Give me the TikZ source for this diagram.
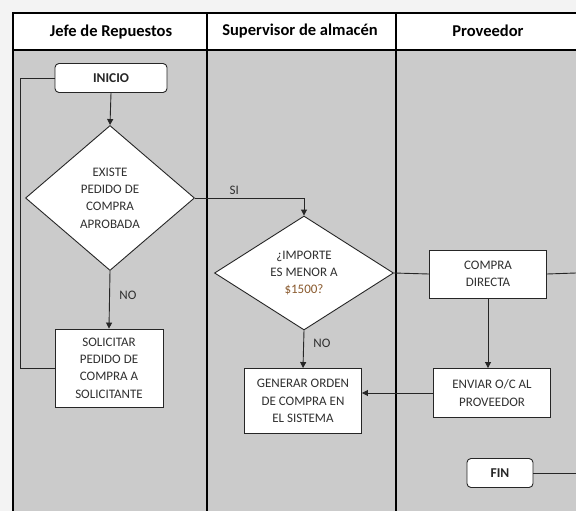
\documentclass[tikz,border=0pt]{standalone}
\usepackage{fontspec}
\setmainfont{Carlito}
\usetikzlibrary{shapes.geometric,arrows.meta}
\definecolor{lanegray}{HTML}{CBCBCB}
\definecolor{inkgray}{HTML}{303030}
\definecolor{pagebg}{HTML}{F3F3F3}
\definecolor{amount}{HTML}{8A5A2E}
\begin{document}
\begin{tikzpicture}[x=1pt,y=-1pt,
  every node/.style={text=inkgray},
  txt/.style={font=\fontsize{13}{17.3}\selectfont},
  procbox/.style={txt, draw=black!85, fill=white, line width=0.9pt, align=center, inner sep=2pt},
  terminal/.style={draw=black!85, fill=white, line width=0.9pt, rounded corners=4pt,
    font=\bfseries\fontsize{13.5}{16}\selectfont, text=black!85},
  decision/.style={txt, diamond, draw=black!85, fill=white, line width=0.9pt, align=center, inner sep=0pt},
  lanehead/.style={font=\bfseries\fontsize{16.5}{19}\selectfont, text=black},
  flow/.style={draw=black!85, line width=0.9pt},
  arrow/.style={flow, -{Triangle[length=6pt,width=6pt]}},
  lbl/.style={txt}
]
\useasboundingbox (0,0) rectangle (576,511);
% page and swimlanes
\fill[pagebg] (0,0) rectangle (576,511);
\fill[white] (13,13) rectangle (576,50);
\fill[lanegray] (13,50) rectangle (576,511);
\draw[line width=2pt] (576,13) -- (13,13) -- (13,511);
\draw[line width=2pt] (13,50) -- (576,50);
\draw[line width=2pt] (207,13) -- (207,511);
\draw[line width=2pt] (396,13) -- (396,511);
\node[lanehead] (hA) at (111,32) {Jefe de Repuestos};
\node[lanehead] (hB) at (300,31) {Supervisor de almacén};
\node[lanehead] (hC) at (488,31) {Proveedor};

% nodes
\node[terminal, minimum width=112pt, minimum height=29pt] (inicio) at (111,78) {INICIO};
\node[decision, minimum width=169pt, minimum height=145pt] (d1) at (110,198)
  {EXISTE\\PEDIDO DE\\COMPRA\\APROBADA};
\node[procbox, minimum width=108pt, minimum height=78pt] (soli) at (109,368)
  {SOLICITAR\\PEDIDO DE\\COMPRA A\\SOLICITANTE};
\node[decision, minimum width=179pt, minimum height=114pt] (d2) at (304,273)
  {¿IMPORTE\\ES MENOR A\\{\color{amount}\$1500?}};
\node[procbox, minimum width=117pt, minimum height=48pt] (compra) at (488,274)
  {COMPRA\\DIRECTA};
\node[procbox, minimum width=117pt, minimum height=49pt] (enviar) at (492,393)
  {ENVIAR O/C AL\\PROVEEDOR};
\node[procbox, minimum width=117pt, minimum height=65pt] (generar) at (303,401)
  {GENERAR ORDEN\\DE COMPRA EN\\EL SISTEMA};
\node[terminal, minimum width=66pt, minimum height=29pt] (fin) at (500,473) {FIN};

\coordinate (loop) at (20,78);
\coordinate (cdout) at (576,273);
\coordinate (finout) at (576,473);

% connectors
\draw[arrow] (inicio.south) -- (d1.north);
\draw[arrow] (d1.south) -- node[lbl, right, xshift=6pt, pos=0.43] (no1) {NO} (soli.north);
\draw[flow] (soli.west) -| (loop) -- (inicio.west);
\draw[arrow] (d1.east) -| node[lbl, above, pos=0.18] (si) {SI} (d2.north);
\draw[flow] (d2.east) -- (compra.west);
\draw[flow] (compra.east) -- (cdout);
\draw[arrow] (compra.south) -- (compra.south |- enviar.north);
\draw[arrow] (d2.south) -- node[lbl, right, xshift=6pt, pos=0.35] (no2) {NO} (generar.north);
\draw[arrow] (enviar.west) -- (generar.east |- enviar.west);
\draw[flow] (fin.east) -- (finout);
\end{tikzpicture}
\end{document}
